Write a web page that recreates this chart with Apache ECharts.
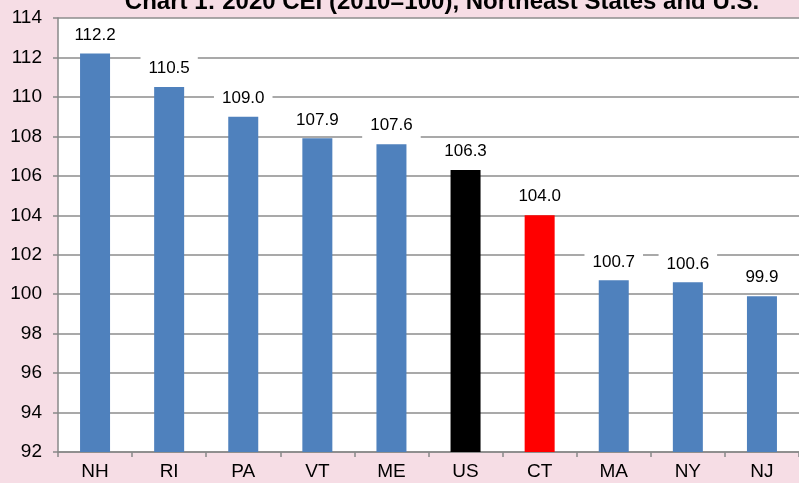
<!DOCTYPE html>
<html><head><meta charset="utf-8">
<script src="https://cdn.jsdelivr.net/npm/echarts@6/dist/echarts.min.js"></script>
<style>html,body{margin:0;padding:0;background:#F6DDE5;}#c{width:799px;height:483px;}</style>
</head><body><div id="c"></div>
<script>
const categories = ['NH','RI','PA','VT','ME','US','CT','MA','NY','NJ'];
const values = [112.2,110.5,109.0,107.9,107.6,106.3,104.0,100.7,100.6,99.9];
const barColors = ['#4F81BD','#4F81BD','#4F81BD','#4F81BD','#4F81BD','#000000','#FF0000','#4F81BD','#4F81BD','#4F81BD'];
const titleText = 'Chart 1: 2020 CEI (2010=100), Northeast States and U.S.';

const chart = echarts.init(document.getElementById('c'));
chart.setOption({
  backgroundColor: '#F6DDE5',
  animation: false,
  title: {
    text: titleText, left: 437, top: -15, textAlign: 'center',
    textStyle: {fontFamily: 'Liberation Sans', fontSize: 24, fontWeight: 'bold', color: '#000'}
  },
  grid: {left: 58, width: 750, top: 18, height: 434, show: true, backgroundColor: '#fff', borderWidth: 0},
  xAxis: {
    type: 'category', data: categories,
    axisLine: {lineStyle: {color: '#888', width: 1.5}},
    axisTick: {show: true, length: 5, lineStyle: {color: '#888', width: 1.5}},
    axisLabel: {fontFamily: 'Liberation Sans', fontSize: 19, color: '#000', margin: 10}
  },
  yAxis: {
    type: 'value', min: 92, max: 114, interval: 2,
    axisLine: {show: true, lineStyle: {color: '#888', width: 1.5}},
    axisTick: {show: true, length: 5, lineStyle: {color: '#888', width: 1.5}},
    splitLine: {lineStyle: {color: '#8c8c8c', width: 1.5}},
    axisLabel: {fontFamily: 'Liberation Sans', fontSize: 19, color: '#000', margin: 16}
  },
  series: [{
    type: 'bar', barWidth: 30,
    data: values.map((v, i) => ({value: v, itemStyle: {color: barColors[i]}})),
    label: {
      show: true, position: 'top', distance: 6,
      formatter: p => p.value.toFixed(1),
      fontFamily: 'Liberation Sans', fontSize: 17, color: '#000',
      backgroundColor: '#fff', padding: [4, 8, 4, 8]
    },
    z: 3
  }]
});
</script></body></html>
